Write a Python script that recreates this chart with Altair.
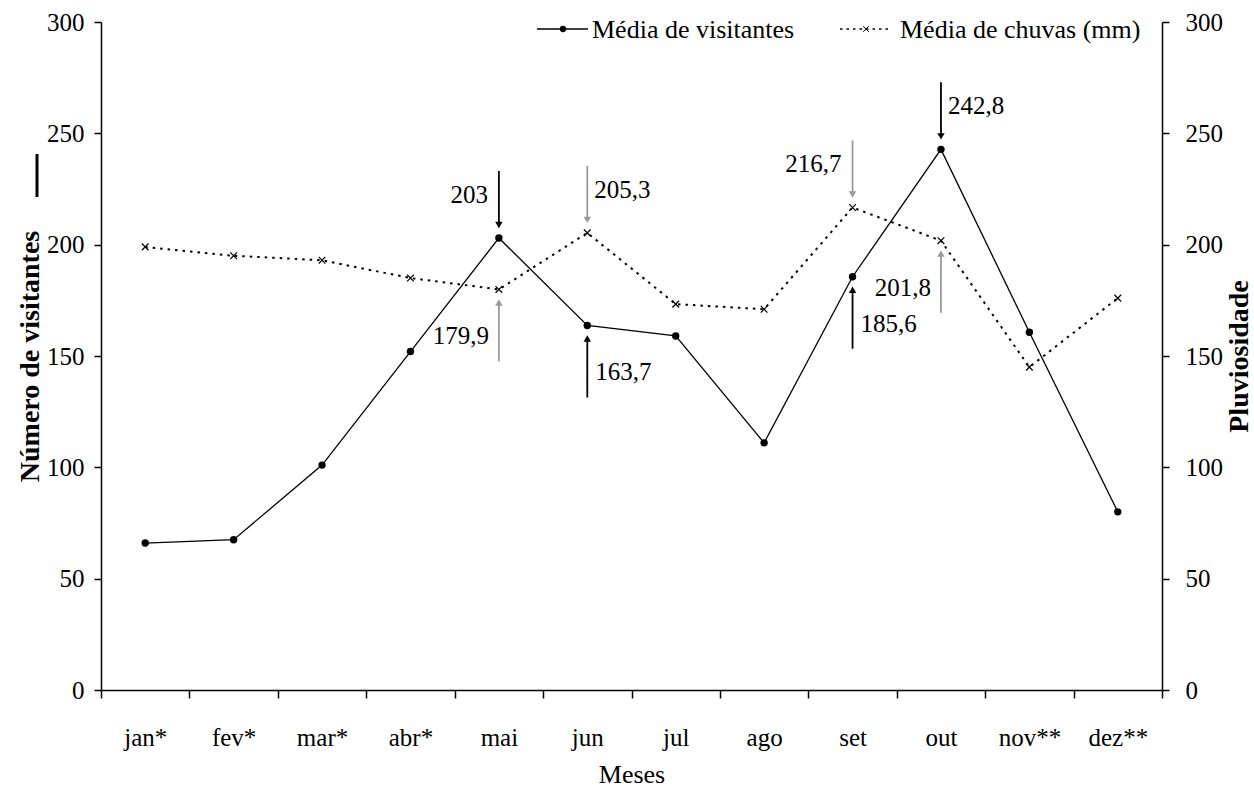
import altair as alt
import pandas as pd

# ---------------- data ----------------
meses = ["jan*", "fev*", "mar*", "abr*", "mai", "jun", "jul", "ago", "set", "out", "nov**", "dez**"]
visitantes = [66, 67.5, 101, 152, 203, 163.7, 159, 111, 185.6, 242.8, 160.7, 80]
chuvas = [199, 195, 193, 185, 179.9, 205.3, 173.3, 171, 216.7, 201.8, 145, 176]

ann_mes = ["mai", "mai", "jun", "jun", "set", "set", "out", "out"]
ann_valor = [203, 179.9, 205.3, 163.7, 216.7, 185.6, 242.8, 201.8]
ann_rotulo = ["203", "179,9", "205,3", "163,7", "216,7", "185,6", "242,8", "201,8"]
ann_serie = ["vis", "chu", "chu", "vis", "chu", "vis", "vis", "chu"]
ann_pos = ["acima", "abaixo", "acima", "abaixo", "acima", "abaixo", "acima", "abaixo"]
ann_lado = ["esq", "esq", "dir", "dir", "esq", "dir", "dir", "esq"]

y_ticks = [0, 50, 100, 150, 200, 250, 300]

df = pd.DataFrame({"mes": meses, "visitantes": visitantes, "chuvas": chuvas})
ann = pd.DataFrame({"mes": ann_mes, "valor": ann_valor, "rotulo": ann_rotulo,
                    "serie": ann_serie, "pos": ann_pos, "lado": ann_lado})

FONT = "Liberation Serif"
W, H = 1061, 668

xscale = alt.Scale(type="band", paddingInner=0, paddingOuter=0)
yscale = alt.Scale(domain=[0, 300], nice=False, zero=True)

x_axis_def = alt.Axis(
    title="Meses", tickBand="extent", labelAngle=0, labelFont=FONT, labelFontSize=25,
    labelColor="black", labelPadding=27, tickSize=8, tickColor="black", tickWidth=1.5,
    domainColor="black", domainWidth=1.5, titleFont=FONT, titleFontSize=26,
    titleFontWeight="normal", titleColor="black", titleY=92, titleBaseline="alphabetic")
x_enc = alt.X("mes:N", sort=meses, scale=xscale, axis=x_axis_def)

color_enc = alt.Color("serie:N", scale=alt.Scale(domain=["vis", "chu"], range=["black", "#9a9a9a"]), legend=None)

common_y_axis = dict(values=y_ticks, grid=False, labelFont=FONT, labelFontSize=25, labelColor="black",
                     tickSize=7, tickColor="black", tickWidth=1.5, domainColor="black", domainWidth=1.5,
                     titleFont=FONT, titleFontSize=28, titleFontWeight="bold", titleColor="black",
                     titleAngle=270, titleAlign="center", titleBaseline="alphabetic", titleY=H / 2)

base = alt.Chart(df)

vis_line = base.mark_line(color="black", strokeWidth=1.3).encode(
    x=x_enc,
    y=alt.Y("visitantes:Q", scale=yscale, axis=alt.Axis(
        orient="left", title="Número de visitantes", labelPadding=10, titleX=-63, **common_y_axis)))
vis_pts = base.mark_point(shape="circle", filled=True, color="black", size=55, opacity=1).encode(
    x=x_enc, y=alt.Y("visitantes:Q", scale=yscale, axis=None))

chu_line = base.mark_line(color="black", strokeWidth=2, strokeDash=[2.5, 5]).encode(
    x=x_enc,
    y=alt.Y("chuvas:Q", scale=yscale, axis=alt.Axis(
        orient="right", title="Pluviosidade", labelPadding=16, titleX=85, **common_y_axis)))
xshape = "M-1,-1L1,1M-1,1L1,-1"
chu_pts = base.mark_point(shape=xshape, filled=False, color="black", size=45, strokeWidth=1.2, opacity=1).encode(
    x=x_enc, y=alt.Y("chuvas:Q", scale=yscale, axis=None))

a = alt.Chart(ann)
y_ann = alt.Y("valor:Q", scale=yscale, axis=None)

rule_above = a.transform_filter(alt.datum.pos == "acima").mark_rule(
    strokeWidth=1.8, yOffset=-67, y2Offset=-14).encode(x=x_enc, y=y_ann, y2="valor:Q", color=color_enc)
head_above = a.transform_filter(alt.datum.pos == "acima").mark_point(
    shape="triangle-down", filled=True, size=55, yOffset=-13, opacity=1).encode(x=x_enc, y=y_ann, color=color_enc)
rule_below = a.transform_filter(alt.datum.pos == "abaixo").mark_rule(
    strokeWidth=1.8, yOffset=72, y2Offset=14).encode(x=x_enc, y=y_ann, y2="valor:Q", color=color_enc)
head_below = a.transform_filter(alt.datum.pos == "abaixo").mark_point(
    shape="triangle-up", filled=True, size=55, yOffset=13, opacity=1).encode(x=x_enc, y=y_ann, color=color_enc)

def ann_text(pos, lado, align, dx, dy):
    return a.transform_filter((alt.datum.pos == pos) & (alt.datum.lado == lado)).mark_text(
        align=align, baseline="alphabetic", dx=dx, dy=dy, font=FONT, fontSize=25, color="black").encode(
        x=x_enc, y=y_ann, text="rotulo:N")

t1 = ann_text("acima", "esq", "right", -11, -35)
t2 = ann_text("acima", "dir", "left", 7, -35)
t3 = ann_text("abaixo", "esq", "right", -10, 55)
t4 = ann_text("abaixo", "dir", "left", 8, 55)

# ---------------- manual legend ----------------
one = alt.Chart(pd.DataFrame({"k": [0]}))
leg_l1 = one.mark_rule(color="black", strokeWidth=1.3).encode(x=alt.value(436), x2=alt.value(487), y=alt.value(7))
leg_p1 = one.mark_point(shape="circle", filled=True, color="black", size=40, opacity=1).encode(x=alt.value(462), y=alt.value(7))
leg_t1 = one.mark_text(align="left", baseline="alphabetic", font=FONT, fontSize=26, color="black").encode(
    x=alt.value(491), y=alt.value(16), text=alt.value("Média de visitantes"))
leg_l2 = one.mark_rule(color="black", strokeWidth=1.5, strokeDash=[2.5, 4]).encode(x=alt.value(739), x2=alt.value(789), y=alt.value(7))
leg_p2 = one.mark_point(shape=xshape, filled=False, color="black", size=30, strokeWidth=1, opacity=1).encode(x=alt.value(765), y=alt.value(7))
leg_t2 = one.mark_text(align="left", baseline="alphabetic", font=FONT, fontSize=26, color="black").encode(
    x=alt.value(799), y=alt.value(16), text=alt.value("Média de chuvas (mm)"))
bar_mark = one.mark_rule(color="black", strokeWidth=3).encode(x=alt.value(-64), y=alt.value(132), y2=alt.value(175))

chart = alt.layer(
    vis_line, chu_line, vis_pts, chu_pts,
    rule_above, head_above, rule_below, head_below, t1, t2, t3, t4,
    leg_l1, leg_p1, leg_t1, leg_l2, leg_p2, leg_t2, bar_mark
).resolve_scale(y="independent").properties(
    width=W, height=H,
    padding={"left": 101, "top": 22, "right": 92, "bottom": 97},
    autosize=alt.AutoSizeParams(type="none"),
    background="white",
).configure_view(stroke=None)

chart.save("out.html", embed_options={"renderer": "svg", "actions": False})
